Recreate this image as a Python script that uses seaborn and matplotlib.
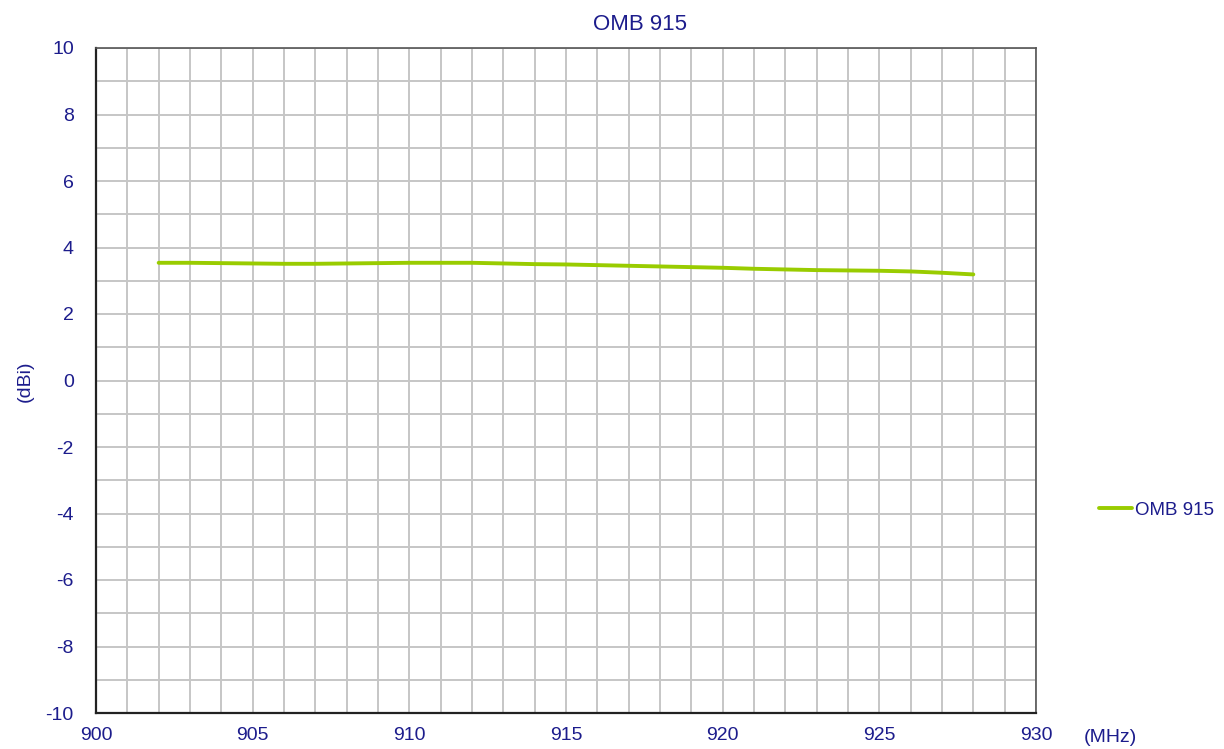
import matplotlib
matplotlib.use("Agg")
import matplotlib.pyplot as plt
import seaborn as sns
import pandas as pd
import numpy as np

freq_mhz = [902, 903, 904, 905, 906, 907, 908, 909, 910, 911, 912, 913, 914, 915,
            916, 917, 918, 919, 920, 921, 922, 923, 924, 925, 926, 927, 928]
gain_dbi = [3.54, 3.54, 3.53, 3.52, 3.51, 3.51, 3.52, 3.53, 3.54, 3.54, 3.54, 3.52, 3.50, 3.49,
            3.47, 3.45, 3.43, 3.41, 3.39, 3.36, 3.34, 3.32, 3.31, 3.30, 3.28, 3.24, 3.19]
series_name = "OMB 915"
x_ticks = [900, 905, 910, 915, 920, 925, 930]
y_ticks = [-10, -8, -6, -4, -2, 0, 2, 4, 6, 8, 10]

sns.set_theme(style="white")
plt.rcParams['font.family'] = ['Liberation Sans', 'DejaVu Sans']

text_color = '#1c1c8c'
line_color = '#99cc00'

df = pd.DataFrame({"freq": freq_mhz, "gain": gain_dbi, "series": series_name})

fig = plt.figure(figsize=(12.24, 7.49), dpi=100)
ax = fig.add_axes([96/1224, 1-713/749, (1036-96)/1224, (713-48)/749])

sns.lineplot(data=df, x="freq", y="gain", hue="series", palette=[line_color],
             linewidth=2.8, ax=ax, legend=False)

ax.set_xlim(900, 930)
ax.set_ylim(-10, 10)
ax.set_xticks(x_ticks)
ax.set_yticks(y_ticks)
ax.set_xticks(np.arange(900, 931, 1), minor=True)
ax.set_yticks(np.arange(-10, 11, 1), minor=True)
ax.grid(which='both', color='#c6c6c6', linewidth=1.4)
ax.set_axisbelow(True)
ax.tick_params(which='major', direction='in', length=5, width=1.2, color='#222222',
               labelsize=14, labelcolor=text_color)
ax.tick_params(which='minor', length=0)
ax.set_yticklabels([str(v) for v in y_ticks])
ax.set_xticklabels([str(v) for v in x_ticks])
ax.tick_params(axis='y', pad=16)
ax.tick_params(axis='x', pad=10)
for side in ['left', 'bottom']:
    ax.spines[side].set_color('#222222')
    ax.spines[side].set_linewidth(1.6)
for side in ['top', 'right']:
    ax.spines[side].set_color('#555555')
    ax.spines[side].set_linewidth(1.2)
ax.set_xlabel("")
ax.set_ylabel("")

fig.text(640/1224, 1-25/749, series_name, ha='center', va='center', fontsize=16, color=text_color)
fig.text(25/1224, 1-381/749, "(dBi)", ha='center', va='center', rotation=90, fontsize=14, color=text_color)
fig.text(1110/1224, 1-738/749, "(MHz)", ha='center', va='center', fontsize=14, color=text_color)

from matplotlib.lines import Line2D
handle = Line2D([0], [0], color=line_color, linewidth=2.8)
leg = fig.legend([handle], [series_name], loc='center left', bbox_to_anchor=(1090/1224, 1-510/749),
                 frameon=False, fontsize=13.5, handlelength=1.75, handletextpad=0.15, borderpad=0)
for t in leg.get_texts():
    t.set_color(text_color)

fig.savefig("out.png", dpi=100)
